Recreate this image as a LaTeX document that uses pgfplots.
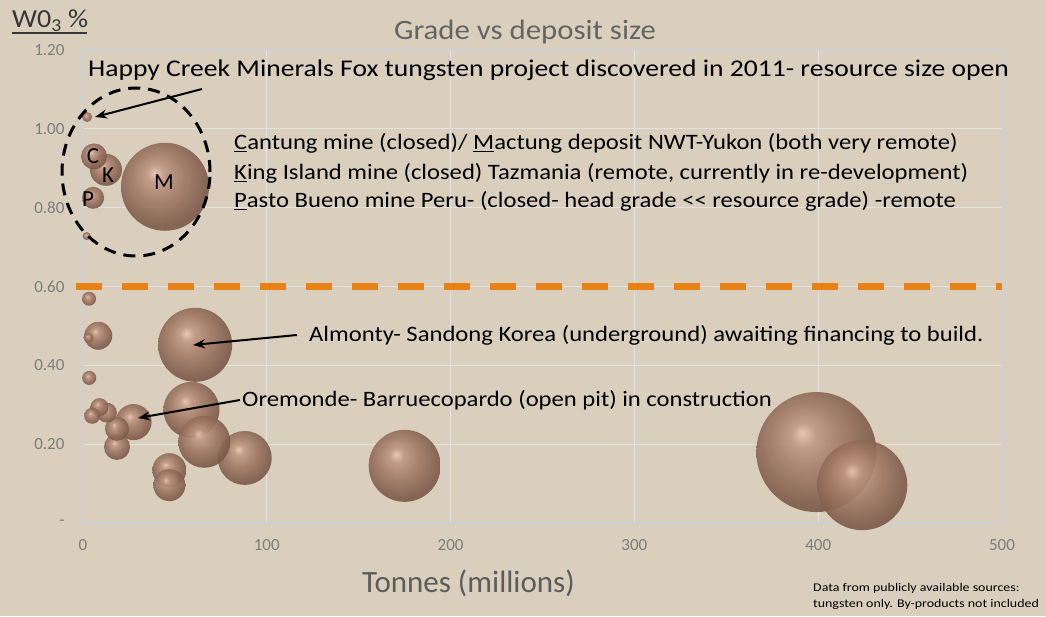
\documentclass[border=0pt]{standalone}
\usepackage{pgfplots}
\pgfplotsset{compat=1.18}
\usepackage{pgfplotstable}
\usepackage{fontspec}
\setmainfont{Carlito}
\newfontfamily\fHC[FakeStretch=1.15]{Carlito}
\newfontfamily\fAn[FakeStretch=1.12]{Carlito}
\newfontfamily\fTi[FakeStretch=1.10]{Carlito}
\newfontfamily\fNo[FakeStretch=1.18]{Carlito}
\newfontfamily\fYl[FakeStretch=1.08]{Carlito}
\usetikzlibrary{arrows.meta}
\definecolor{bg}{RGB}{217,207,188}
\definecolor{gridc}{RGB}{228,226,224}
\definecolor{axc}{RGB}{205,208,216}
\definecolor{tickc}{RGB}{125,125,125}
\definecolor{titlec}{RGB}{100,100,100}
\definecolor{xlabc}{RGB}{92,92,92}
\definecolor{ylc}{RGB}{55,55,55}
\definecolor{orangeL}{RGB}{232,130,20}
\definecolor{bubhi}{RGB}{234,198,180}
\definecolor{bubmid}{RGB}{192,152,132}
\definecolor{bubbody}{RGB}{162,122,102}
\definecolor{bubrim}{RGB}{124,89,73}
\pgfdeclareradialshading{bubble}{\pgfpoint{-6bp}{8bp}}{color(0bp)=(bubhi); color(5bp)=(bubmid); color(14bp)=(bubbody); color(27bp)=(bubrim); color(50bp)=(bubrim)}

\pgfplotstableread{
x y d
399 0.180 120
424 0.096 90
44.6 0.853 88
61 0.452 74
175 0.145 72
59 0.287 56
88 0.165 54
66 0.206 52
27.5 0.256 36
47 0.134 34
12.5 0.896 32
47 0.096 32
8.3 0.475 28
6 0.930 26
18.5 0.193 26
18.5 0.239 24
5.5 0.825 22
13 0.280 20
9 0.294 18
5 0.272 16
3.3 0.569 14
3.4 0.368 14
3 0.470 10
2.2 1.030 10
2 0.728 8
}\bubbles

\begin{document}
\begin{tikzpicture}
\path[use as bounding box, fill=bg] (0pt,0pt) rectangle (1046pt,616pt);
\begin{axis}[
  at={(83pt,93pt)}, anchor=south west,
  scale only axis, width=919pt, height=473pt,
  xmin=0, xmax=500, ymin=0, ymax=1.2,
  xtick={0,100,200,300,400,500},
  xticklabels={0,100,200,300,400,500},
  ytick={0,0.2,0.4,0.6,0.8,1.0,1.2},
  yticklabels={-,0.20,0.40,0.60,0.80,1.00,1.20},
  grid=major,
  major grid style={draw=gridc, line width=1.2pt},
  axis line style={draw=axc, line width=1.5pt},
  tick style={draw=none},
  ticklabel style={font=\fontsize{17}{20}\selectfont, text=tickc},
  yticklabel style={xshift=-15pt},
  xticklabel style={yshift=-13pt},
  axis background/.style={fill=bg},
  clip=false,
]
\addplot[orangeL, line width=7pt, dash pattern=on 26pt off 20pt] coordinates {(-4,0.6) (500,0.6)};
\addplot[only marks, mark=none,
  visualization depends on={\thisrow{d} \as \dia},
  nodes near coords={},
  every node near coord/.style={anchor=center, circle, inner sep=0pt, minimum size=\dia pt, shade, shading=bubble, opacity=0.9}]
  table[x=x, y=y] {\bubbles};
\end{axis}
\begin{scope}[x=1pt, y=1pt]
\node[anchor=base, text=titlec, font=\fTi\fontsize{28}{32}\selectfont] at (525,576) {Grade vs deposit size};
\node[anchor=base west, text=ylc, font=\fYl\fontsize{26}{30}\selectfont, inner sep=0pt] at (12,588) {W0\textsubscript{3} \%};
\draw[ylc, line width=1.8pt] (12,583) -- (87,583);
\node[anchor=base west, inner sep=0pt, font=\fHC\fontsize{24}{28}\selectfont] at (88,539) {Happy Creek Minerals Fox tungsten project discovered in 2011- resource size open};
\node[anchor=base west, inner sep=0pt, font=\fAn\fontsize{22}{26}\selectfont] at (234,466) {\underline{C}antung mine (closed)/ \underline{M}actung deposit NWT-Yukon (both very remote)};
\node[anchor=base west, inner sep=0pt, font=\fAn\fontsize{22}{26}\selectfont] at (234,436) {\underline{K}ing Island mine (closed) Tazmania (remote, currently in re-development)};
\node[anchor=base west, inner sep=0pt, font=\fAn\fontsize{22}{26}\selectfont] at (234,408) {\underline{P}asto Bueno mine Peru- (closed- head grade {<}{<} resource grade) -remote};
\node[anchor=base west, inner sep=0pt, font=\fAn\fontsize{22}{26}\selectfont] at (309,274) {Almonty- Sandong Korea (underground) awaiting financing to build.};
\node[anchor=base west, inner sep=0pt, font=\fAn\fontsize{22}{26}\selectfont] at (242,209) {Oremonde- Barruecopardo (open pit) in construction};
\node[anchor=base west, inner sep=0pt, text=xlabc, font=\fontsize{31}{34}\selectfont] at (362,24) {Tonnes (millions)};
\node[anchor=base west, inner sep=0pt, font=\fNo\fontsize{11.8}{14}\selectfont] at (813,25) {Data from publicly available sources:};
\node[anchor=base west, inner sep=0pt, font=\fNo\fontsize{11.8}{14}\selectfont] at (813,9) {tungsten only. By-products not included};
\node[font=\fontsize{23}{26}\selectfont, inner sep=0pt] at (93,460) {C};
\node[font=\fontsize{23}{26}\selectfont, inner sep=0pt] at (108,441) {K};
\node[font=\fontsize{23}{26}\selectfont, inner sep=0pt] at (164,434) {M};
\node[font=\fontsize{23}{26}\selectfont, inner sep=0pt] at (88,417) {P};
\draw[black, line width=3pt, dash pattern=on 12pt off 8pt] (136,444) ellipse [x radius=74, y radius=84];
\draw[-{Stealth[length=12pt,width=9pt]}, line width=2pt] (202,527) -- (95,499);
\draw[-{Stealth[length=12pt,width=9pt]}, line width=2pt] (297,281) -- (193,271);
\draw[-{Stealth[length=12pt,width=9pt]}, line width=2pt] (240,216) -- (138,198);
\end{scope}
\end{tikzpicture}
\end{document}
